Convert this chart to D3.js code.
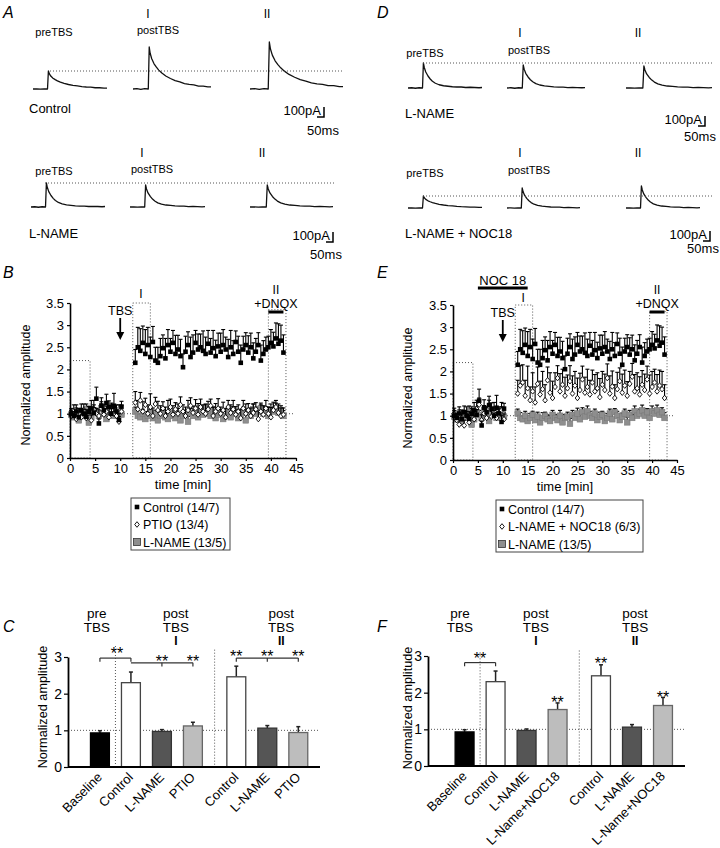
<!DOCTYPE html>
<html>
<head>
<meta charset="utf-8">
<script src="https://cdn.jsdelivr.net/npm/d3@7"></script>
<style>body{margin:0;background:#fff}</style>
</head>
<body>
<svg id="fig" width="720" height="848"></svg>
<script>
const FONT = 'Liberation Sans, Arial, Helvetica, sans-serif';

// ---------- example EPSC traces (normalised shape) ----------
const epscMs   = [0, 25, 50, 75, 98, 104, 110, 120, 135, 150, 165, 185, 210, 240, 270, 300, 330, 360, 390, 420, 450, 480, 500];
const epscSlow = [0, 0.01, -0.01, 0.01, 0, 1.0, 0.85, 0.72, 0.6, 0.52, 0.45, 0.38, 0.31, 0.25, 0.2, 0.17, 0.13, 0.11, 0.1, 0.07, 0.07, 0.05, 0.05];
const epscFast = [0, 0.01, -0.01, 0.01, 0, 1.0, 0.82, 0.64, 0.48, 0.36, 0.27, 0.19, 0.13, 0.09, 0.07, 0.05, 0.04, 0.04, 0.02, 0.03, 0.02, 0.01, 0.02];
// peak amplitudes (pA): preTBS, postTBS I, postTBS II
const ampControl   = [180, 420, 470];
const ampLname     = [240, 220, 220];
const ampLnameD    = [250, 230, 220];
const ampLnameNoc  = [120, 200, 220];

// ---------- time course (B, E) ----------
const timeBase = [0.25, 0.75, 1.25, 1.75, 2.25, 2.75, 3.25, 3.75, 4.25, 4.75, 5.25, 5.75, 6.25, 6.75, 7.25, 7.75, 8.25, 8.75, 9.25, 9.75, 10.25];
const timePost = [13, 13.5, 14, 14.5, 15, 15.5, 16, 16.5, 17, 17.5, 18, 18.5, 19, 19.5, 20, 20.5, 21, 21.5, 22, 22.5,
  23, 23.5, 24, 24.5, 25, 25.5, 26, 26.5, 27, 27.5, 28, 28.5, 29, 29.5, 30, 30.5, 31, 31.5, 32, 32.5,
  33, 33.5, 34, 34.5, 35, 35.5, 36, 36.5, 37, 37.5, 38, 38.5, 39, 39.5, 40, 40.5, 41, 41.5, 42, 42.5];

const controlBase = [1.00, 0.95, 1.05, 0.92, 1.08, 1.00, 0.93, 1.04, 1.12, 1.02, 1.34, 0.78, 1.18, 1.08, 1.24, 1.15, 1.00, 1.18, 1.05, 0.86, 1.16];
const controlBaseErr = [0.12, 0.10, 0.15, 0.12, 0.14, 0.10, 0.16, 0.12, 0.18, 0.12, 0.26, 0.10, 0.18, 0.12, 0.20, 0.14, 0.12, 0.28, 0.15, 0.14, 0.12];
const controlPost = [2.15, 2.50, 2.42, 2.60, 2.35, 2.55, 2.28, 2.62, 2.20, 2.15,
  2.30, 2.48, 2.25, 2.55, 2.40, 2.60, 2.35, 2.45, 2.30, 2.05,
  2.40, 2.55, 2.28, 2.38, 2.60, 2.45, 2.50, 2.42, 2.35, 2.58,
  2.38, 2.48, 2.30, 2.52, 2.40, 2.55, 2.45, 2.28, 2.50, 2.35,
  2.62, 2.40, 2.15, 2.45, 2.55, 2.38, 2.50, 2.25, 2.40, 2.55,
  2.20, 2.35, 2.45, 2.50, 2.60, 2.52, 2.70, 2.58, 2.65, 2.38];
const controlPostErr = [0.30, 0.45, 0.50, 0.38, 0.55, 0.40, 0.45, 0.35, 0.30, 0.35,
  0.40, 0.30, 0.45, 0.35, 0.30, 0.28, 0.42, 0.32, 0.38, 0.30,
  0.35, 0.30, 0.45, 0.40, 0.28, 0.35, 0.30, 0.45, 0.38, 0.30,
  0.32, 0.40, 0.36, 0.30, 0.42, 0.35, 0.28, 0.40, 0.38, 0.30,
  0.25, 0.35, 0.40, 0.30, 0.28, 0.38, 0.32, 0.35, 0.30, 0.28,
  0.35, 0.30, 0.28, 0.25, 0.30, 0.32, 0.35, 0.45, 0.35, 0.40];

const ptioBase = [0.95, 1.05, 0.88, 1.00, 0.92, 1.08, 0.90, 1.02, 0.85, 1.10, 1.00, 0.95, 1.12, 0.98, 1.05, 0.92, 1.08, 1.00, 0.95, 0.82, 1.05];
const ptioBaseErr = [0.12, 0.15, 0.10, 0.12, 0.18, 0.14, 0.10, 0.15, 0.12, 0.20, 0.12, 0.14, 0.15, 0.10, 0.12, 0.14, 0.16, 0.12, 0.10, 0.12, 0.14];
const ptioPost = [1.25, 1.10, 1.30, 1.05, 1.20, 1.00, 1.15, 0.95, 1.22, 1.08,
  1.00, 1.12, 0.95, 1.05, 1.15, 0.98, 1.10, 1.00, 1.20, 1.05,
  0.95, 1.08, 1.18, 1.02, 1.12, 0.98, 1.15, 1.05, 1.00, 1.10,
  1.18, 0.95, 1.05, 1.12, 1.00, 1.08, 0.92, 1.15, 1.02, 1.10,
  0.98, 1.05, 0.90, 1.12, 1.00, 1.08, 0.95, 1.02, 1.10, 0.88,
  1.05, 0.98, 1.12, 1.00, 0.92, 1.08, 1.15, 1.02, 0.95, 0.98];
const ptioPostErr = [0.25, 0.20, 0.18, 0.22, 0.15, 0.20, 0.30, 0.18, 0.15, 0.20,
  0.18, 0.15, 0.20, 0.25, 0.18, 0.20, 0.15, 0.22, 0.18, 0.15,
  0.20, 0.22, 0.18, 0.15, 0.20, 0.25, 0.18, 0.15, 0.20, 0.18,
  0.15, 0.20, 0.18, 0.22, 0.15, 0.18, 0.20, 0.15, 0.18, 0.20,
  0.18, 0.15, 0.20, 0.18, 0.22, 0.15, 0.18, 0.20, 0.15, 0.18,
  0.15, 0.20, 0.18, 0.15, 0.22, 0.18, 0.15, 0.20, 0.18, 0.15];

const lnameBase = [0.98, 0.92, 1.05, 0.85, 1.00, 0.95, 1.10, 0.80, 0.92, 1.08, 1.02, 0.95, 1.12, 1.00, 0.88, 1.05, 1.10, 0.95, 1.00, 1.08, 0.98];
const lnameBaseErr = [0.10, 0.12, 0.08, 0.10, 0.12, 0.10, 0.12, 0.08, 0.10, 0.12, 0.10, 0.12, 0.10, 0.08, 0.10, 0.12, 0.10, 0.08, 0.10, 0.12, 0.10];
const lnamePost = [1.05, 0.95, 0.92, 1.00, 0.88, 0.95, 1.02, 0.90, 0.98, 0.85,
  0.95, 1.00, 0.92, 0.88, 1.02, 0.95, 0.90, 1.00, 0.85, 0.95,
  0.98, 0.82, 1.02, 0.95, 1.05, 0.92, 1.08, 0.98, 1.10, 1.00,
  0.95, 1.05, 0.90, 0.98, 1.02, 0.88, 0.95, 1.05, 0.92, 1.08,
  1.00, 0.90, 0.98, 1.05, 0.85, 1.02, 0.95, 1.10, 1.00, 1.05,
  1.12, 1.00, 1.08, 0.95, 1.10, 1.05, 1.12, 1.02, 1.08, 0.95];
const lnamePostErr = [0.10, 0.12, 0.08, 0.10, 0.12, 0.10, 0.08, 0.12, 0.10, 0.10,
  0.12, 0.08, 0.10, 0.12, 0.10, 0.08, 0.10, 0.12, 0.10, 0.08,
  0.10, 0.12, 0.10, 0.08, 0.12, 0.10, 0.10, 0.08, 0.12, 0.10,
  0.08, 0.10, 0.12, 0.10, 0.08, 0.12, 0.10, 0.10, 0.12, 0.08,
  0.10, 0.12, 0.08, 0.10, 0.12, 0.10, 0.08, 0.12, 0.10, 0.10,
  0.12, 0.10, 0.08, 0.10, 0.12, 0.10, 0.12, 0.08, 0.10, 0.12];

const nocBase = [1.05, 0.90, 0.80, 0.95, 0.78, 1.00, 0.85, 1.08, 0.92, 1.15, 1.25, 0.90, 1.05, 0.95, 1.20, 0.98, 1.10, 0.95, 1.02, 1.12, 0.92];
const nocBaseErr = [0.12, 0.15, 0.10, 0.18, 0.12, 0.20, 0.15, 0.12, 0.18, 0.20, 0.15, 0.12, 0.18, 0.10, 0.15, 0.12, 0.20, 0.12, 0.15, 0.18, 0.12];
const nocPost = [1.50, 1.68, 1.75, 1.45, 1.62, 1.35, 1.55, 1.30, 1.72, 1.48,
  1.60, 1.35, 1.80, 1.52, 1.40, 1.65, 1.85, 1.55, 1.70, 1.45,
  1.62, 1.78, 1.50, 1.68, 1.40, 1.58, 1.82, 1.52, 1.65, 1.48,
  1.75, 1.55, 1.62, 1.42, 1.70, 1.58, 1.85, 1.50, 1.66, 1.40,
  1.60, 1.78, 1.52, 1.68, 1.45, 1.72, 1.88, 1.55, 1.62, 1.48,
  1.70, 1.58, 1.82, 1.50, 1.65, 1.75, 1.55, 1.68, 1.60, 1.40];
const nocPostErr = [0.30, 0.45, 0.40, 0.35, 0.50, 0.30, 0.42, 0.35, 0.38, 0.30,
  0.40, 0.35, 0.30, 0.45, 0.38, 0.32, 0.28, 0.40, 0.35, 0.42,
  0.30, 0.35, 0.40, 0.32, 0.45, 0.38, 0.30, 0.35, 0.40, 0.32,
  0.28, 0.38, 0.35, 0.42, 0.30, 0.36, 0.32, 0.40, 0.35, 0.30,
  0.38, 0.30, 0.42, 0.35, 0.32, 0.28, 0.30, 0.38, 0.35, 0.40,
  0.32, 0.36, 0.30, 0.42, 0.35, 0.30, 0.38, 0.35, 0.40, 0.30];

const windowsMin = [[0, 4], [12.5, 16], [39.5, 43]];
const windowTop = [2.2, 3.5, 3.35];
const tbsMin = 10;
const dnqxMin = [39.5, 42.5];
const noc18Min = [5, 15];
const xTicksMin = [0, 5, 10, 15, 20, 25, 30, 35, 40, 45];
const yTicksAmp = [0, 0.5, 1, 1.5, 2, 2.5, 3, 3.5];

// ---------- bar charts (C, F) ----------
const barGroups = [0, 1, 1, 1, 2, 2, 2];
const barCatsC = ['Baseline', 'Control', 'L-NAME', 'PTIO', 'Control', 'L-NAME', 'PTIO'];
const barMeansC = [0.93, 2.30, 0.97, 1.12, 2.46, 1.06, 0.94];
const barErrsC = [0.06, 0.29, 0.05, 0.10, 0.29, 0.07, 0.16];
const barCatsF = ['Baseline', 'Control', 'L-NAME', 'L-Name+NOC18', 'Control', 'L-NAME', 'L-Name+NOC18'];
const barMeansF = [0.93, 2.30, 0.97, 1.54, 2.46, 1.06, 1.65];
const barErrsF = [0.06, 0.29, 0.04, 0.18, 0.30, 0.07, 0.22];
const groupTitles = [['pre', 'TBS'], ['post', 'TBS', 'I'], ['post', 'TBS', 'II']];

const svg = d3.select('#fig');
svg.append('rect').attr('width', 720).attr('height', 848).attr('fill', '#fff');

function txt(x, y, s, size, opts = {}) {
  const t = svg.append('text').attr('x', x).attr('y', y)
    .attr('font-family', FONT).attr('font-size', size).attr('fill', '#000').text(s);
  if (opts.anchor) t.attr('text-anchor', opts.anchor);
  if (opts.italic) t.attr('font-style', 'italic');
  if (opts.rotate) t.attr('transform', `rotate(${opts.rotate},${x},${y})`);
  return t;
}
function dotted(x1, y1, x2, y2) {
  svg.append('line').attr('x1', x1).attr('y1', y1).attr('x2', x2).attr('y2', y2)
    .attr('stroke', '#555').attr('stroke-width', 1).attr('stroke-dasharray', '1,2');
}

// panel letters
[['A', 3, 18], ['D', 377, 18], ['B', 3, 278], ['E', 377, 278], ['C', 3, 632], ['F', 377, 632]]
  .forEach(([s, x, y]) => txt(x, y, s, 16, { italic: true }));

// ---------- traces ----------
const PX_PER_PA = 0.1; // 100 pA = 10 px
function traceRow(cfg) {
  const line = d3.line().x(d => d[0]).y(d => d[1]);
  cfg.amps.forEach((amp, i) => {
    const x = d3.scaleLinear().domain([0, 500]).range([cfg.x0[i], cfg.x0[i] + cfg.w[i]]);
    const shape = cfg.shapes[i];
    const pts = epscMs.map((t, k) => [x(t), cfg.base - amp * PX_PER_PA * shape[k]]);
    svg.append('path').attr('d', line(pts)).attr('fill', 'none')
      .attr('stroke', '#111').attr('stroke-width', 1.3).attr('stroke-linejoin', 'round');
  });
  dotted(cfg.dot[0], cfg.base - cfg.amps[0] * PX_PER_PA, cfg.dot[1], cfg.base - cfg.amps[0] * PX_PER_PA);
  txt(cfg.lab.pre[0], cfg.lab.pre[1], 'preTBS', 11, { anchor: 'middle' });
  txt(cfg.lab.post[0], cfg.lab.post[1], 'postTBS', 11, { anchor: 'middle' });
  txt(cfg.lab.i[0], cfg.lab.i[1], 'I', 12, { anchor: 'middle' });
  txt(cfg.lab.ii[0], cfg.lab.ii[1], 'II', 12, { anchor: 'middle' });
  txt(cfg.name[0], cfg.name[1], cfg.name[2], 13);
  // scale bar
  const [cx, cy] = cfg.bar;
  svg.append('path').attr('d', `M${cx - 7},${cy}H${cx}V${cy - 100 * PX_PER_PA}`)
    .attr('fill', 'none').attr('stroke', '#000').attr('stroke-width', 1.5);
  txt(cx - 3, cy - 2, '100pA', 13, { anchor: 'end' });
  txt(cfg.ms[0], cfg.ms[1], '50ms', 13, { anchor: 'middle' });
}

traceRow({ base: 89, x0: [33, 133, 250], w: [74, 78, 93], amps: ampControl,
  shapes: [epscSlow, epscSlow, epscSlow], dot: [50, 343],
  lab: { pre: [54, 36], post: [158, 34], i: [148, 18], ii: [267, 18] },
  name: [29, 113, 'Control'], bar: [324, 117], ms: [323, 135] });
traceRow({ base: 207, x0: [31, 130, 250], w: [74, 75, 83], amps: ampLname,
  shapes: [epscFast, epscFast, epscFast], dot: [45, 335],
  lab: { pre: [54, 175], post: [152, 173], i: [142, 157], ii: [262, 157] },
  name: [29, 238, 'L-NAME'], bar: [333, 242], ms: [326, 259] });
traceRow({ base: 88, x0: [408, 507, 626], w: [74, 78, 86], amps: ampLnameD,
  shapes: [epscFast, epscFast, epscFast], dot: [423, 712],
  lab: { pre: [425, 57], post: [529, 54], i: [520, 37], ii: [638, 37] },
  name: [405, 118, 'L-NAME'], bar: [705, 126], ms: [700, 141] });
traceRow({ base: 208, x0: [408, 507, 626], w: [74, 73, 74], amps: ampLnameNoc,
  shapes: [epscSlow, epscFast, epscFast], dot: [423, 712],
  lab: { pre: [425, 177], post: [529, 174], i: [520, 157], ii: [638, 157] },
  name: [405, 238, 'L-NAME + NOC18'], bar: [710, 241], ms: [703, 253] });

// ---------- time courses ----------
function styleAxis(ax, size) {
  ax.selectAll('text').attr('font-size', size).attr('font-family', FONT).attr('fill', '#000');
  ax.select('.domain').attr('stroke', '#000').attr('stroke-width', 1.6);
  ax.selectAll('.tick line').attr('stroke', '#000').attr('stroke-width', 1.2);
}
function marker(g, kind, cx, cy) {
  if (kind === 'black') {
    g.append('rect').attr('x', cx - 2.3).attr('y', cy - 2.3).attr('width', 4.6).attr('height', 4.6).attr('fill', '#000');
  } else if (kind === 'grey') {
    g.append('rect').attr('x', cx - 2.8).attr('y', cy - 2.8).attr('width', 5.6).attr('height', 5.6)
      .attr('fill', '#8e8e8e').attr('stroke', '#7a7a7a').attr('stroke-width', 0.6);
  } else {
    g.append('path').attr('d', `M${cx},${cy - 2.8}L${cx + 2.3},${cy}L${cx},${cy + 2.8}L${cx - 2.3},${cy}Z`)
      .attr('fill', '#fff').attr('stroke', '#000').attr('stroke-width', 0.9);
  }
}
function timeCourse(cfg) {
  const x = d3.scaleLinear().domain([0, 45]).range(cfg.xr);
  const y = d3.scaleLinear().domain([0, 3.5]).range(cfg.yr);
  const g = svg.append('g');
  windowsMin.forEach((w, i) => {
    g.append('rect').attr('x', x(w[0])).attr('y', y(windowTop[i]))
      .attr('width', x(w[1]) - x(w[0])).attr('height', y(0) - y(windowTop[i]))
      .attr('fill', 'none').attr('stroke', '#555').attr('stroke-width', 1).attr('stroke-dasharray', '1,2');
  });
  g.append('line').attr('x1', x(0)).attr('x2', x(44.5)).attr('y1', y(1)).attr('y2', y(1))
    .attr('stroke', '#555').attr('stroke-dasharray', '1,2');
  const times = timeBase.concat(timePost);
  cfg.series.forEach(s => {
    const mean = s.base.concat(s.post), err = s.baseErr.concat(s.postErr);
    const eb = g.append('g').attr('stroke', '#000').attr('stroke-width', 1.1);
    times.forEach((t, i) => {
      const cx = x(t), top = y(mean[i] + err[i]);
      eb.append('line').attr('x1', cx).attr('x2', cx).attr('y1', y(mean[i])).attr('y2', top);
      eb.append('line').attr('x1', cx - 2).attr('x2', cx + 2).attr('y1', top).attr('y2', top);
    });
    const mg = g.append('g');
    times.forEach((t, i) => marker(mg, s.kind, x(t), y(mean[i])));
  });
  const ax = g.append('g').attr('transform', `translate(0,${y(0)})`)
    .call(d3.axisBottom(x).tickValues(xTicksMin).tickSize(3).tickSizeOuter(0).tickPadding(3));
  styleAxis(ax, 13);
  const ay = g.append('g').attr('transform', `translate(${x(0)},0)`)
    .call(d3.axisLeft(y).tickValues(yTicksAmp).tickFormat(d => String(d)).tickSize(3).tickSizeOuter(0).tickPadding(3));
  styleAxis(ay, 13);
  txt((cfg.xr[0] + cfg.xr[1]) / 2, y(0) + 31, 'time [min]', 13, { anchor: 'middle' });
  txt(cfg.ylab[0], cfg.ylab[1], 'Normalized amplitude', 12.5, { anchor: 'middle', rotate: -90 });
  // annotations
  txt(x(14.1), cfg.iY, 'I', 12, { anchor: 'middle' });
  txt(x(41), cfg.iiY, 'II', 12, { anchor: 'middle' });
  txt(x(41), cfg.iiY + 14, '+DNQX', 12.5, { anchor: 'middle' });
  g.append('line').attr('x1', x(dnqxMin[0])).attr('x2', x(dnqxMin[1]))
    .attr('y1', cfg.iiY + 18).attr('y2', cfg.iiY + 18).attr('stroke', '#000').attr('stroke-width', 3);
  txt(x(tbsMin), cfg.tbsY, 'TBS', 12.5, { anchor: 'middle' });
  const ax0 = x(tbsMin), a0 = cfg.tbsY + 3, a1 = cfg.tbsY + 25;
  g.append('line').attr('x1', ax0).attr('x2', ax0).attr('y1', a0).attr('y2', a1 - 6)
    .attr('stroke', '#000').attr('stroke-width', 1.8);
  g.append('path').attr('d', `M${ax0 - 4},${a1 - 8}L${ax0 + 4},${a1 - 8}L${ax0},${a1}Z`).attr('fill', '#000');
  if (cfg.noc) {
    txt(x((noc18Min[0] + noc18Min[1]) / 2), cfg.noc - 3, 'NOC 18', 13, { anchor: 'middle' });
    g.append('line').attr('x1', x(noc18Min[0])).attr('x2', x(noc18Min[1]))
      .attr('y1', cfg.noc).attr('y2', cfg.noc).attr('stroke', '#000').attr('stroke-width', 3);
  }
}

timeCourse({ xr: [70, 296], yr: [458, 303], ylab: [30, 385], iY: 298, iiY: 294, tbsY: 315,
  series: [
    { kind: 'grey', base: lnameBase, baseErr: lnameBaseErr, post: lnamePost, postErr: lnamePostErr },
    { kind: 'diamond', base: ptioBase, baseErr: ptioBaseErr, post: ptioPost, postErr: ptioPostErr },
    { kind: 'black', base: controlBase, baseErr: controlBaseErr, post: controlPost, postErr: controlPostErr }
  ] });
timeCourse({ xr: [453, 677], yr: [460, 305], ylab: [412, 388], iY: 302, iiY: 294, tbsY: 317, noc: 288,
  series: [
    { kind: 'grey', base: lnameBase, baseErr: lnameBaseErr, post: lnamePost, postErr: lnamePostErr },
    { kind: 'diamond', base: nocBase, baseErr: nocBaseErr, post: nocPost, postErr: nocPostErr },
    { kind: 'black', base: controlBase, baseErr: controlBaseErr, post: controlPost, postErr: controlPostErr }
  ] });

function legend(x0, y0, w, items) {
  svg.append('rect').attr('x', x0).attr('y', y0).attr('width', w).attr('height', 52)
    .attr('fill', '#fff').attr('stroke', '#444').attr('stroke-width', 1);
  const g = svg.append('g');
  items.forEach(([kind, label], i) => {
    const cy = y0 + 9 + i * 17.5;
    if (kind === 'grey') {
      g.append('rect').attr('x', x0 + 2.5).attr('y', cy - 3.5).attr('width', 7).attr('height', 7)
        .attr('fill', '#8e8e8e').attr('stroke', '#333').attr('stroke-width', 0.8);
    } else marker(g, kind, x0 + 6, cy);
    txt(x0 + 12, cy + 4.5, label, 12.5);
  });
}
legend(131, 498, 99, [['black', 'Control (14/7)'], ['diamond', 'PTIO (13/4)'], ['grey', 'L-NAME (13/5)']]);
legend(496, 500, 147, [['black', 'Control (14/7)'], ['diamond', 'L-NAME + NOC18 (6/3)'], ['grey', 'L-NAME (13/5)']]);

// ---------- bar charts ----------
const GROUP_GAP = 0.4, BAR_W = 0.61;
const barFill = { 'Baseline': '#000', 'Control': '#fff', 'L-NAME': '#555', 'PTIO': '#bdbdbd', 'L-Name+NOC18': '#bdbdbd' };
const barStroke = { 'Baseline': '#000', 'Control': '#444', 'L-NAME': '#333', 'PTIO': '#666', 'L-Name+NOC18': '#666' };
function barPanel(cfg) {
  const x = d3.scaleLinear().domain(cfg.slotDomain).range(cfg.xr);
  const y = d3.scaleLinear().domain([0, 3]).range(cfg.yr);
  const slot = i => i + (barGroups[i] === 2 ? GROUP_GAP : 0);
  const g = svg.append('g');
  g.append('line').attr('x1', cfg.xr[0]).attr('x2', cfg.xr[1]).attr('y1', y(1)).attr('y2', y(1))
    .attr('stroke', '#555').attr('stroke-dasharray', '1,2');
  cfg.vlines.forEach(([s, top]) => {
    g.append('line').attr('x1', x(s)).attr('x2', x(s)).attr('y1', y(top)).attr('y2', y(0))
      .attr('stroke', '#555').attr('stroke-dasharray', '1,2');
  });
  const bw = x(BAR_W) - x(0);
  cfg.cats.forEach((c, i) => {
    const cx = x(slot(i)), top = y(cfg.means[i]), etop = y(cfg.means[i] + cfg.errs[i]);
    g.append('line').attr('x1', cx).attr('x2', cx).attr('y1', top).attr('y2', etop)
      .attr('stroke', '#222').attr('stroke-width', 1.5);
    g.append('line').attr('x1', cx - 2).attr('x2', cx + 2).attr('y1', etop).attr('y2', etop)
      .attr('stroke', '#222').attr('stroke-width', 1.5);
    g.append('rect').attr('x', cx - bw / 2).attr('y', top).attr('width', bw).attr('height', y(0) - top)
      .attr('fill', barFill[c]).attr('stroke', barStroke[c]).attr('stroke-width', 1.3);
    txt(cx + 3, y(0) + 11, c, 13, { anchor: 'end', rotate: -45 });
  });
  // brackets
  cfg.brackets.forEach(b => {
    const yl = y(b.level);
    g.append('line').attr('x1', x(b.from)).attr('x2', x(b.to)).attr('y1', yl).attr('y2', yl)
      .attr('stroke', '#333').attr('stroke-width', 1.2);
    b.ticks.forEach(t => {
      g.append('line').attr('x1', x(t)).attr('x2', x(t)).attr('y1', yl).attr('y2', y(b.level - 0.1))
        .attr('stroke', '#333').attr('stroke-width', 1.2);
    });
  });
  cfg.stars.forEach(([s, v]) => txt(x(s), y(v), '**', 16, { anchor: 'middle' }));
  // group titles
  groupTitles.forEach((lines, k) => {
    lines.forEach((l, j) => {
      const t = txt(x(cfg.titleSlots[k]), 618 + j * 14 - (j === 2 ? 1 : 0), l, j === 2 ? 12 : 13.5, { anchor: 'middle' });
      if (j === 2) t.attr('font-weight', 'bold');
    });
  });
  const ay = g.append('g').attr('transform', `translate(${cfg.xr[0]},0)`)
    .call(d3.axisLeft(y).tickValues([0, 1, 2, 3]).tickFormat(d => String(d)).tickSize(4).tickSizeOuter(0).tickPadding(2));
  styleAxis(ay, 14);
  ay.select('.domain').attr('stroke-width', 1.8);
  g.append('line').attr('x1', cfg.xr[0]).attr('x2', cfg.xr[1]).attr('y1', y(0)).attr('y2', y(0))
    .attr('stroke', '#000').attr('stroke-width', 2);
  txt(cfg.ylab[0], cfg.ylab[1], 'Normalized amplitude', 12.7, { anchor: 'middle', rotate: -90 });
}

barPanel({ xr: [68, 320], yr: [767, 657], slotDomain: [-1.03, 7.1], cats: barCatsC, means: barMeansC, errs: barErrsC,
  vlines: [[0.5, 3.3], [3.7, 3.2]], ylab: [47, 707], titleSlots: [-0.1, 2.45, 5.85],
  brackets: [
    { from: 0, to: 1, level: 2.97, ticks: [0, 1] },
    { from: 1, to: 3, level: 2.84, ticks: [2, 3] },
    { from: 4.4, to: 6.4, level: 2.97, ticks: [4.4, 5.4, 6.4] }
  ],
  stars: [[0.55, 2.94], [2, 2.72], [3, 2.72], [4.4, 2.86], [5.4, 2.86], [6.4, 2.86]] });
barPanel({ xr: [428, 685], yr: [766, 656], slotDomain: [-1.18, 7.11], cats: barCatsF, means: barMeansF, errs: barErrsF,
  vlines: [[0.5, 3.1], [3.7, 3.15]], ylab: [412, 708], titleSlots: [-0.15, 2.3, 5.5],
  brackets: [{ from: 0, to: 1, level: 2.82, ticks: [0, 1] }],
  stars: [[0.5, 2.78], [4.4, 2.65], [3, 1.58], [6.4, 1.72]] });
</script>
</body>
</html>
